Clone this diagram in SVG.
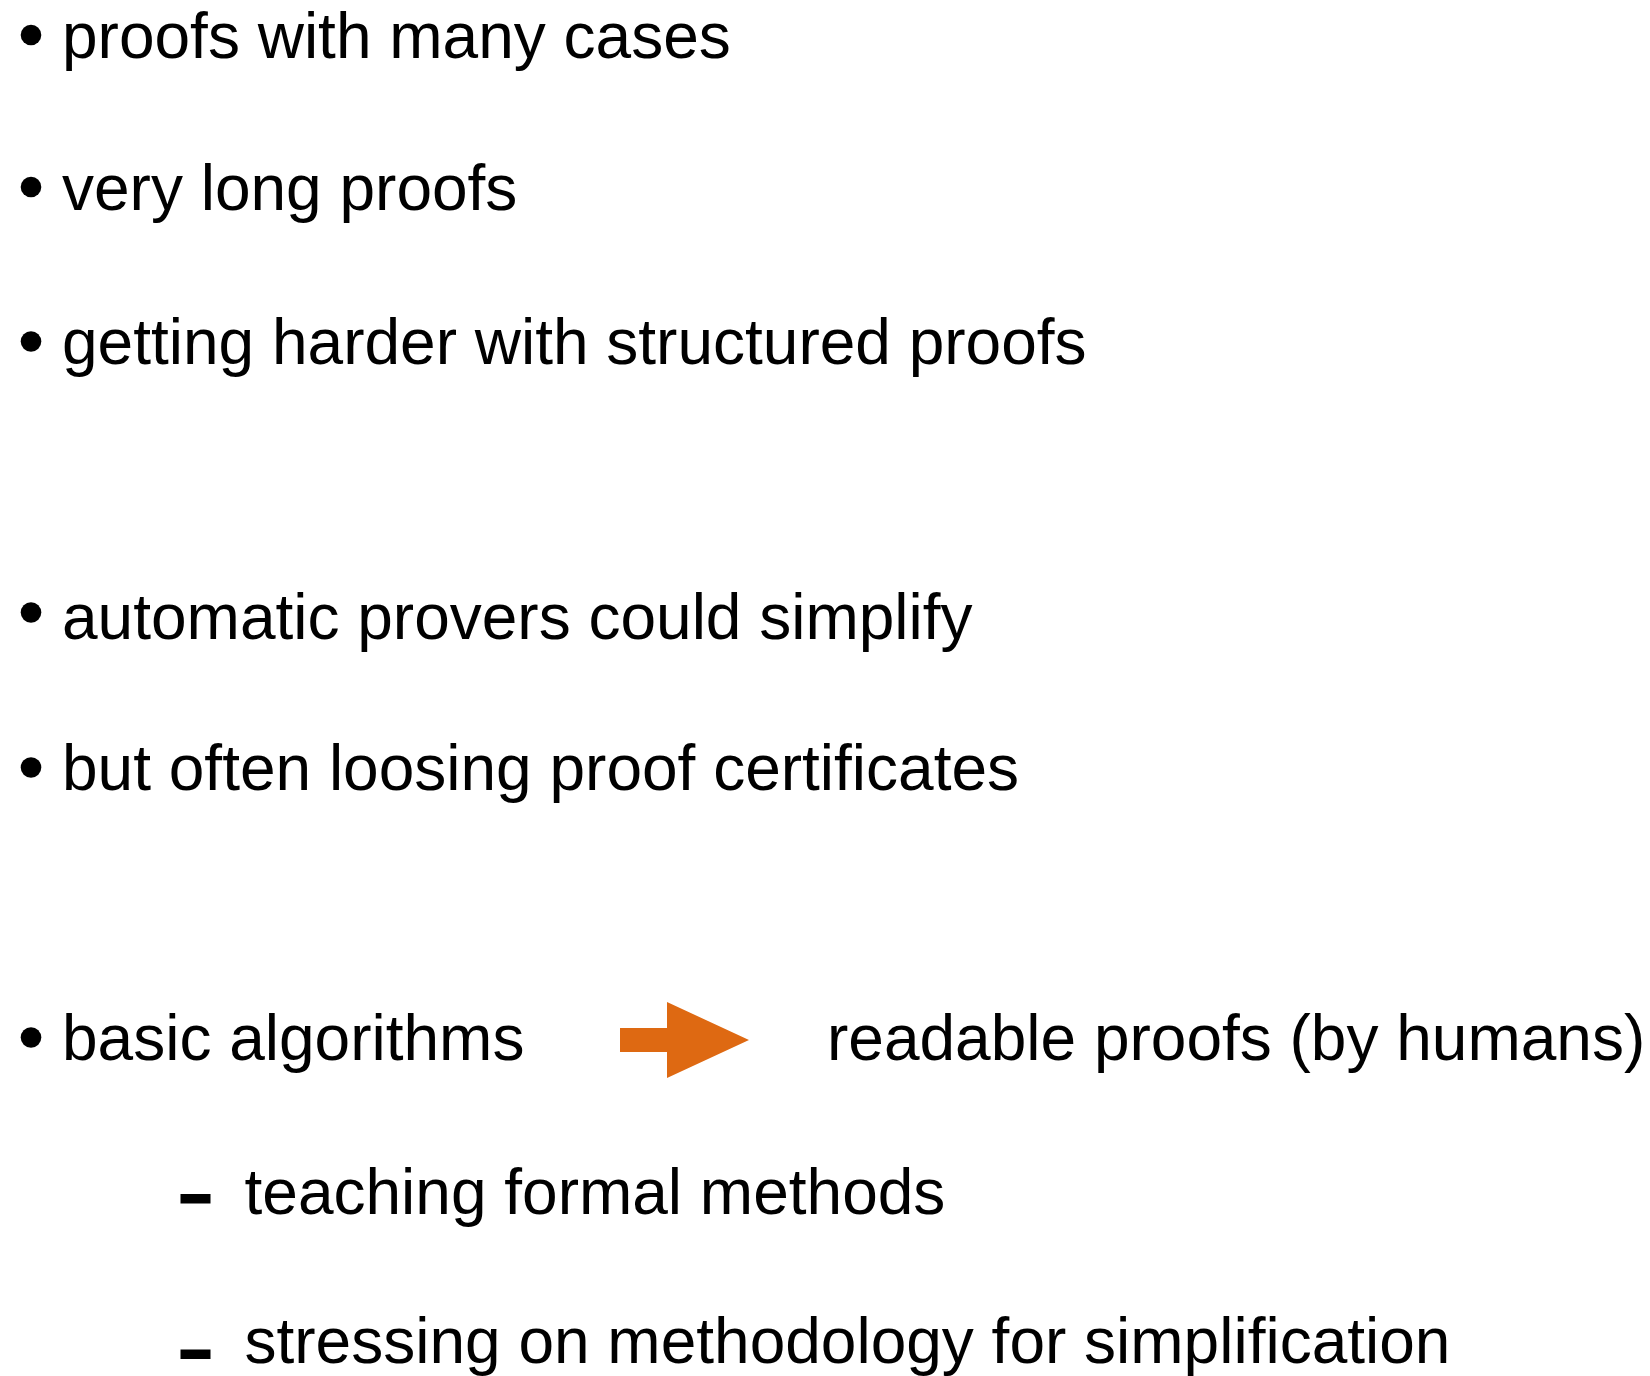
<svg xmlns="http://www.w3.org/2000/svg" width="1650" height="1376" viewBox="0 0 1650 1376">
  <style>
    .t { font-family: "Liberation Sans", Arial, sans-serif; font-size: 64px; fill: #000000; }
    .dot { fill: #000000; }
    .dash { fill: #000000; }
    .arrow { fill: #DE6912; }
  </style>
  <rect x="0" y="0" width="1650" height="1376" fill="#ffffff"/>

  <!-- top-level bullet points -->
  <g id="item-cases">
    <circle class="dot" cx="31" cy="35" r="10.3"/>
    <text class="t" x="62" y="58">proofs with many cases</text>
  </g>
  <g id="item-long">
    <circle class="dot" cx="31" cy="187" r="10.3"/>
    <text class="t" x="62" y="210">very long proofs</text>
  </g>
  <g id="item-structured">
    <circle class="dot" cx="31" cy="341.5" r="10.3"/>
    <text class="t" x="62" y="364">getting harder with structured proofs</text>
  </g>
  <g id="item-automatic">
    <circle class="dot" cx="31" cy="612.5" r="10.3"/>
    <text class="t" x="62" y="639">automatic provers could simplify</text>
  </g>
  <g id="item-certificates">
    <circle class="dot" cx="31" cy="767.5" r="10.3"/>
    <text class="t" x="62" y="790">but often loosing proof certificates</text>
  </g>
  <g id="item-basic">
    <circle class="dot" cx="31" cy="1037.5" r="10.3"/>
    <text class="t" x="62" y="1060">basic algorithms</text>
  </g>
  <g id="item-readable">
    <text class="t" x="827" y="1060">readable proofs (by humans)</text>
  </g>

  <!-- sub-points -->
  <g id="sub-teaching">
    <rect class="dash" x="180.5" y="1194" width="30" height="9.5"/>
    <text class="t" x="244.5" y="1214">teaching formal methods</text>
  </g>
  <g id="sub-stressing">
    <rect class="dash" x="180.5" y="1349.5" width="30" height="9.5"/>
    <text class="t" x="244.5" y="1363">stressing on methodology for simplification</text>
  </g>

  <!-- block arrow between the two phrases -->
  <g id="connectors">
    <polygon class="arrow" points="620,1028 667,1028 667,1002 749,1040 667,1078 667,1052 620,1052"/>
  </g>
</svg>
